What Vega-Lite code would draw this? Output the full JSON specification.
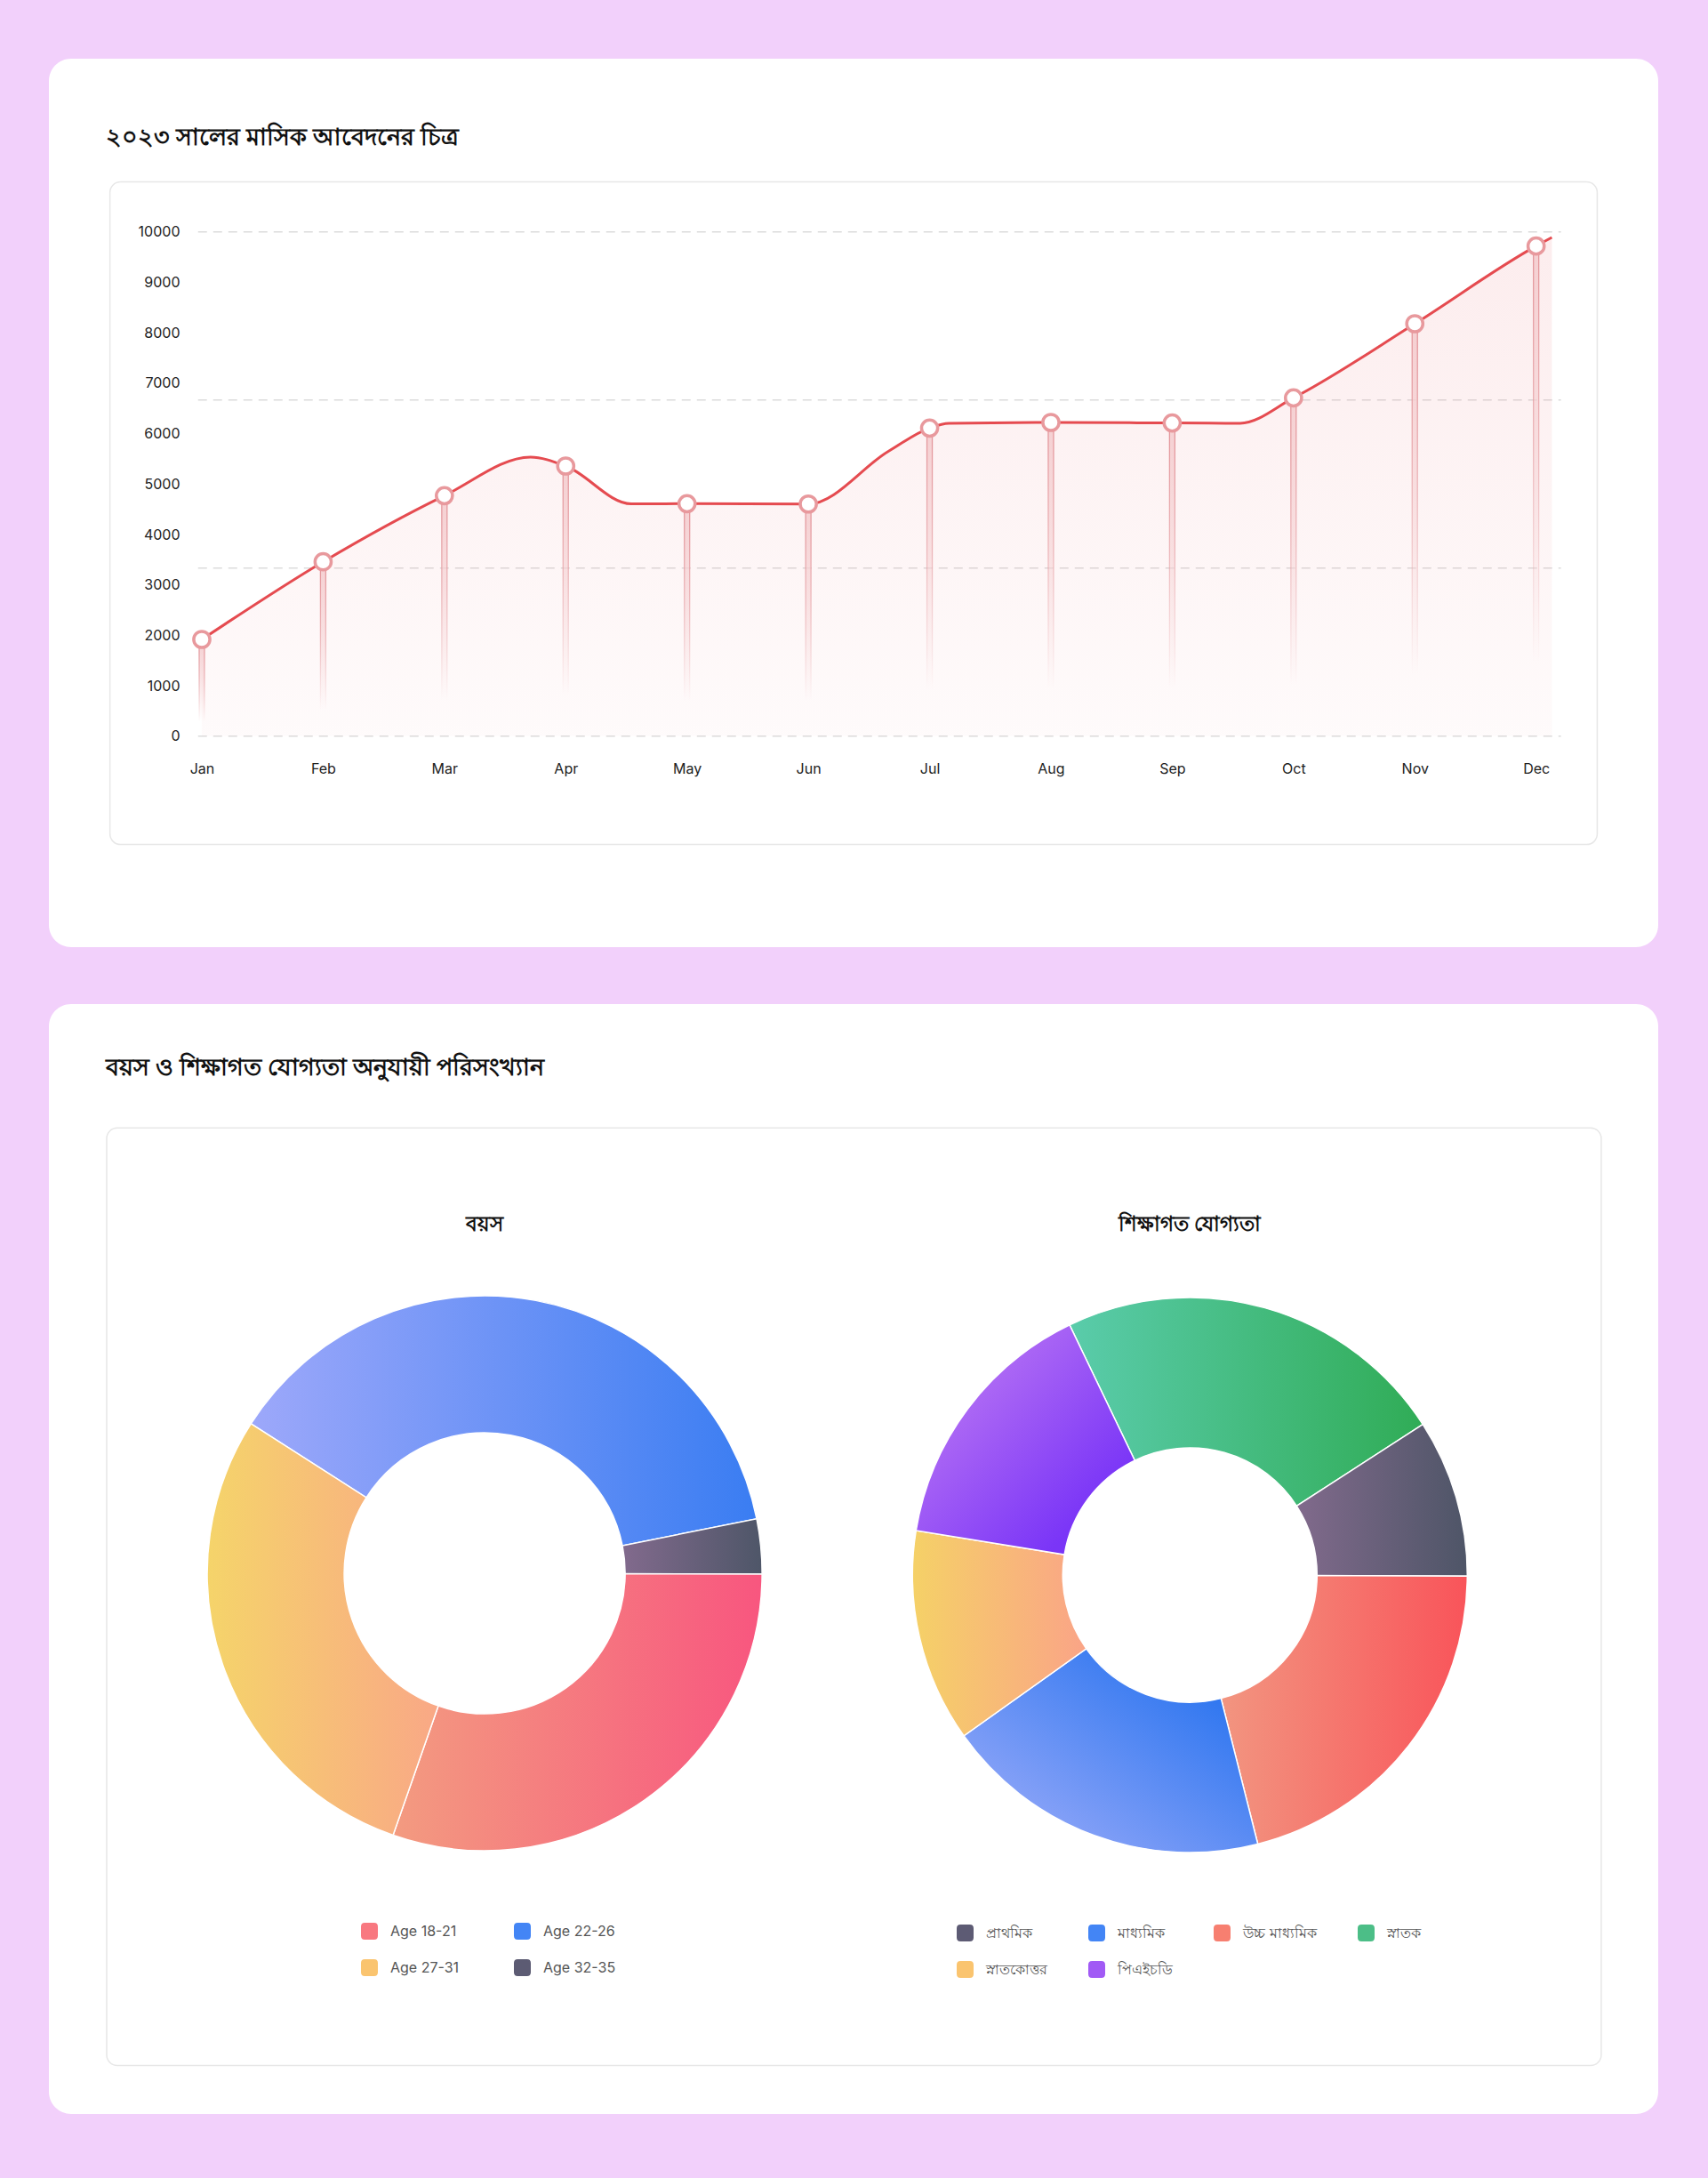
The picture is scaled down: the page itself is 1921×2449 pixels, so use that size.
{
  "$schema": "https://vega.github.io/schema/vega-lite/v6.json",
  "background": "#F2D0FB",
  "padding": {"left": 55, "top": 66, "right": 56, "bottom": 72},
  "spacing": 64,
  "config": {"view": {"stroke": null}, "font": "Inter"},
  "datasets": {
    "curve": [
      {"m": 1, "v": 1919}, {"m": 2, "v": 3459}, {"m": 3, "v": 4770}, {"m": 3.71, "v": 5534},
      {"m": 4, "v": 5358}, {"m": 4.54, "v": 4607}, {"m": 5, "v": 4612}, {"m": 6, "v": 4605},
      {"m": 6.66, "v": 5650}, {"m": 7, "v": 6111}, {"m": 7.16, "v": 6205}, {"m": 8, "v": 6222},
      {"m": 9, "v": 6212}, {"m": 9.56, "v": 6205}, {"m": 10, "v": 6709}, {"m": 11, "v": 8180},
      {"m": 12, "v": 9721}, {"m": 12.13, "v": 9891}
    ],
    "monthly": [
      {"m": 1, "month": "Jan", "v": 1919}, {"m": 2, "month": "Feb", "v": 3459},
      {"m": 3, "month": "Mar", "v": 4770}, {"m": 4, "month": "Apr", "v": 5358},
      {"m": 5, "month": "May", "v": 4612}, {"m": 6, "month": "Jun", "v": 4605},
      {"m": 7, "month": "Jul", "v": 6111}, {"m": 8, "month": "Aug", "v": 6222},
      {"m": 9, "month": "Sep", "v": 6212}, {"m": 10, "month": "Oct", "v": 6709},
      {"m": 11, "month": "Nov", "v": 8180}, {"m": 12, "month": "Dec", "v": 9721}
    ],
    "grid": [{"v": 0}, {"v": 3333.3}, {"v": 6666.7}, {"v": 10000}],
    "age": [
      {"chart": "বয়স", "g": "Age 22-26", "p": 37.8, "o": 1},
      {"chart": "বয়স", "g": "Age 32-35", "p": 3.2, "o": 2},
      {"chart": "বয়স", "g": "Age 18-21", "p": 30.3, "o": 3},
      {"chart": "বয়স", "g": "Age 27-31", "p": 28.7, "o": 4}
    ],
    "edu": [
      {"chart": "শিক্ষাগত যোগ্যতা", "g": "স্নাতক", "p": 23.0, "o": 1},
      {"chart": "শিক্ষাগত যোগ্যতা", "g": "প্রাথমিক", "p": 9.2, "o": 2},
      {"chart": "শিক্ষাগত যোগ্যতা", "g": "উচ্চ মাধ্যমিক", "p": 21.0, "o": 3},
      {"chart": "শিক্ষাগত যোগ্যতা", "g": "মাধ্যমিক", "p": 19.1, "o": 4},
      {"chart": "শিক্ষাগত যোগ্যতা", "g": "স্নাতকোত্তর", "p": 12.4, "o": 5},
      {"chart": "শিক্ষাগত যোগ্যতা", "g": "পিএইচডি", "p": 15.3, "o": 6}
    ],
    "charts": [{"chart": "বয়স"}, {"chart": "শিক্ষাগত যোগ্যতা"}]
  },
  "vconcat": [
    {
      "width": 1810,
      "height": 999,
      "view": {"fill": "white", "cornerRadius": 25, "stroke": null},
      "title": {
        "text": "২০২৩ সালের মাসিক আবেদনের চিত্র",
        "anchor": "start", "frame": "group", "orient": "top", "offset": 0,
        "dx": 64, "dy": 116, "baseline": "middle",
        "font": "Noto Sans", "fontSize": 27, "fontWeight": "bold", "color": "#111111"
      },
      "layer": [
        {
          "data": {"values": [{}]},
          "mark": {"type": "rect", "fill": "transparent", "stroke": "#E7E7E7", "strokeWidth": 1.5, "cornerRadius": 12},
          "encoding": {
            "x": {"datum": 0.2425, "type": "quantitative", "title": null, "scale": {"domain": [-0.224, 12.97], "nice": false, "zero": false},
              "axis": {"values": [1, 2, 3, 4, 5, 6, 7, 8, 9, 10, 11, 12], "labelExpr": "['','Jan','Feb','Mar','Apr','May','Jun','Jul','Aug','Sep','Oct','Nov','Dec'][datum.value]", "offset": -201, "zindex": 2, "domain": false, "ticks": false, "tickSize": 0, "grid": false, "labelPadding": 0, "labelFlush": false, "labelOverlap": false, "labelBaseline": "middle", "labelFont": "Inter", "labelFontSize": 16, "labelColor": "#222222", "title": null}},
            "x2": {"datum": 12.504},
            "y": {"datum": 10992, "type": "quantitative", "title": null, "scale": {"domain": [-4183, 13436], "nice": false, "zero": false},
              "axis": {"values": [0, 1000, 2000, 3000, 4000, 5000, 6000, 7000, 8000, 9000, 10000], "format": "d", "offset": -147, "zindex": 2, "domain": false, "ticks": false, "tickSize": 0, "grid": false, "labelPadding": 0, "labelOverlap": false, "labelFlush": false, "labelFont": "Inter", "labelFontSize": 16, "labelColor": "#222222", "title": null}},
            "y2": {"datum": -2148}
          }
        },
        {
          "data": {"name": "grid"},
          "mark": {"type": "rule", "stroke": "#DCDCDC", "strokeWidth": 1.5, "strokeDash": [10, 7]},
          "encoding": {
            "x": {"datum": 0.969, "type": "quantitative", "title": null, "scale": {"domain": [-0.224, 12.97], "nice": false, "zero": false},
              "axis": {"values": [1, 2, 3, 4, 5, 6, 7, 8, 9, 10, 11, 12], "labelExpr": "['','Jan','Feb','Mar','Apr','May','Jun','Jul','Aug','Sep','Oct','Nov','Dec'][datum.value]", "offset": -201, "zindex": 2, "domain": false, "ticks": false, "tickSize": 0, "grid": false, "labelPadding": 0, "labelFlush": false, "labelOverlap": false, "labelBaseline": "middle", "labelFont": "Inter", "labelFontSize": 16, "labelColor": "#222222", "title": null}},
            "x2": {"datum": 12.205},
            "y": {"field": "v", "type": "quantitative", "title": null, "scale": {"domain": [-4183, 13436], "nice": false, "zero": false},
              "axis": {"values": [0, 1000, 2000, 3000, 4000, 5000, 6000, 7000, 8000, 9000, 10000], "format": "d", "offset": -147, "zindex": 2, "domain": false, "ticks": false, "tickSize": 0, "grid": false, "labelPadding": 0, "labelOverlap": false, "labelFlush": false, "labelFont": "Inter", "labelFontSize": 16, "labelColor": "#222222", "title": null}}
          }
        },
        {
          "data": {"name": "curve"},
          "mark": {
            "type": "area", "interpolate": "monotone",
            "fill": {"gradient": "linear", "x1": 0, "y1": 0, "x2": 0, "y2": 1,
              "stops": [{"offset": 0, "color": "rgba(238,140,146,0.16)"}, {"offset": 1, "color": "rgba(238,140,146,0.04)"}]}
          },
          "encoding": {
            "x": {"field": "m", "type": "quantitative", "title": null, "scale": {"domain": [-0.224, 12.97], "nice": false, "zero": false},
              "axis": {"values": [1, 2, 3, 4, 5, 6, 7, 8, 9, 10, 11, 12], "labelExpr": "['','Jan','Feb','Mar','Apr','May','Jun','Jul','Aug','Sep','Oct','Nov','Dec'][datum.value]", "offset": -201, "zindex": 2, "domain": false, "ticks": false, "tickSize": 0, "grid": false, "labelPadding": 0, "labelFlush": false, "labelOverlap": false, "labelBaseline": "middle", "labelFont": "Inter", "labelFontSize": 16, "labelColor": "#222222", "title": null}},
            "y": {"field": "v", "type": "quantitative", "title": null, "scale": {"domain": [-4183, 13436], "nice": false, "zero": false},
              "axis": {"values": [0, 1000, 2000, 3000, 4000, 5000, 6000, 7000, 8000, 9000, 10000], "format": "d", "offset": -147, "zindex": 2, "domain": false, "ticks": false, "tickSize": 0, "grid": false, "labelPadding": 0, "labelOverlap": false, "labelFlush": false, "labelFont": "Inter", "labelFontSize": 16, "labelColor": "#222222", "title": null}},
            "y2": {"datum": 0}
          }
        },
        {
          "data": {"name": "monthly"},
          "mark": {
            "type": "bar", "size": 6, "strokeWidth": 1.3,
            "fill": {"gradient": "linear", "x1": 0, "y1": 0, "x2": 0, "y2": 1,
              "stops": [{"offset": 0, "color": "#F5D0D2"}, {"offset": 0.4, "color": "rgba(245,208,210,0.6)"}, {"offset": 0.85, "color": "rgba(245,208,210,0)"}]},
            "stroke": {"gradient": "linear", "x1": 0, "y1": 0, "x2": 0, "y2": 1,
              "stops": [{"offset": 0, "color": "#E3959A"}, {"offset": 0.4, "color": "rgba(227,149,154,0.6)"}, {"offset": 0.85, "color": "rgba(227,149,154,0)"}]}
          },
          "encoding": {
            "x": {"field": "m", "type": "quantitative", "title": null, "scale": {"domain": [-0.224, 12.97], "nice": false, "zero": false},
              "axis": {"values": [1, 2, 3, 4, 5, 6, 7, 8, 9, 10, 11, 12], "labelExpr": "['','Jan','Feb','Mar','Apr','May','Jun','Jul','Aug','Sep','Oct','Nov','Dec'][datum.value]", "offset": -201, "zindex": 2, "domain": false, "ticks": false, "tickSize": 0, "grid": false, "labelPadding": 0, "labelFlush": false, "labelOverlap": false, "labelBaseline": "middle", "labelFont": "Inter", "labelFontSize": 16, "labelColor": "#222222", "title": null}},
            "y": {"field": "v", "type": "quantitative", "title": null, "scale": {"domain": [-4183, 13436], "nice": false, "zero": false},
              "axis": {"values": [0, 1000, 2000, 3000, 4000, 5000, 6000, 7000, 8000, 9000, 10000], "format": "d", "offset": -147, "zindex": 2, "domain": false, "ticks": false, "tickSize": 0, "grid": false, "labelPadding": 0, "labelOverlap": false, "labelFlush": false, "labelFont": "Inter", "labelFontSize": 16, "labelColor": "#222222", "title": null}},
            "y2": {"datum": 0}
          }
        },
        {
          "data": {"name": "curve"},
          "mark": {"type": "line", "interpolate": "monotone", "color": "#E54B50", "strokeWidth": 3},
          "encoding": {
            "x": {"field": "m", "type": "quantitative", "title": null, "scale": {"domain": [-0.224, 12.97], "nice": false, "zero": false},
              "axis": {"values": [1, 2, 3, 4, 5, 6, 7, 8, 9, 10, 11, 12], "labelExpr": "['','Jan','Feb','Mar','Apr','May','Jun','Jul','Aug','Sep','Oct','Nov','Dec'][datum.value]", "offset": -201, "zindex": 2, "domain": false, "ticks": false, "tickSize": 0, "grid": false, "labelPadding": 0, "labelFlush": false, "labelOverlap": false, "labelBaseline": "middle", "labelFont": "Inter", "labelFontSize": 16, "labelColor": "#222222", "title": null}},
            "y": {"field": "v", "type": "quantitative", "title": null, "scale": {"domain": [-4183, 13436], "nice": false, "zero": false},
              "axis": {"values": [0, 1000, 2000, 3000, 4000, 5000, 6000, 7000, 8000, 9000, 10000], "format": "d", "offset": -147, "zindex": 2, "domain": false, "ticks": false, "tickSize": 0, "grid": false, "labelPadding": 0, "labelOverlap": false, "labelFlush": false, "labelFont": "Inter", "labelFontSize": 16, "labelColor": "#222222", "title": null}}
          }
        },
        {
          "data": {"name": "monthly"},
          "mark": {"type": "point", "filled": true, "fill": "white", "stroke": "#E8999D", "strokeWidth": 3.5, "size": 330, "opacity": 1},
          "encoding": {
            "x": {"field": "m", "type": "quantitative", "title": null, "scale": {"domain": [-0.224, 12.97], "nice": false, "zero": false},
              "axis": {"values": [1, 2, 3, 4, 5, 6, 7, 8, 9, 10, 11, 12], "labelExpr": "['','Jan','Feb','Mar','Apr','May','Jun','Jul','Aug','Sep','Oct','Nov','Dec'][datum.value]", "offset": -201, "zindex": 2, "domain": false, "ticks": false, "tickSize": 0, "grid": false, "labelPadding": 0, "labelFlush": false, "labelOverlap": false, "labelBaseline": "middle", "labelFont": "Inter", "labelFontSize": 16, "labelColor": "#222222", "title": null}},
            "y": {"field": "v", "type": "quantitative", "title": null, "scale": {"domain": [-4183, 13436], "nice": false, "zero": false},
              "axis": {"values": [0, 1000, 2000, 3000, 4000, 5000, 6000, 7000, 8000, 9000, 10000], "format": "d", "offset": -147, "zindex": 2, "domain": false, "ticks": false, "tickSize": 0, "grid": false, "labelPadding": 0, "labelOverlap": false, "labelFlush": false, "labelFont": "Inter", "labelFontSize": 16, "labelColor": "#222222", "title": null}}
          }
        }
      ]
    },
    {
      "width": 1810,
      "height": 1248,
      "view": {"fill": "white", "cornerRadius": 25, "stroke": null},
      "title": {
        "text": "বয়স ও শিক্ষাগত যোগ্যতা অনুযায়ী পরিসংখ্যান",
        "anchor": "start", "frame": "group", "orient": "top", "offset": 0,
        "dx": 64, "dy": 99, "baseline": "middle",
        "font": "Noto Sans", "fontSize": 27, "fontWeight": "bold", "color": "#111111"
      },
      "resolve": {"scale": {"x": "independent", "y": "independent", "theta": "independent", "color": "independent"}},
      "layer": [
        {
          "data": {"values": [{}]},
          "mark": {"type": "rect", "fill": "transparent", "stroke": "#E7E7E7", "strokeWidth": 1.5, "cornerRadius": 12},
          "encoding": {
            "x": {"datum": 0.0359, "type": "quantitative", "scale": {"domain": [0, 1], "nice": false}, "axis": null},
            "x2": {"datum": 0.9646},
            "y": {"datum": 0.0437, "type": "quantitative", "scale": {"domain": [0, 1], "nice": false}, "axis": null},
            "y2": {"datum": 0.8885}
          }
        },
        {
          "data": {"name": "age"},
          "mark": {"type": "arc", "outerRadius": 312, "innerRadius": 158, "stroke": "white", "strokeWidth": 1.5, "yOffset": 16},
          "encoding": {
            "x": {"field": "chart", "type": "nominal", "axis": null,
              "scale": {"type": "point", "domain": ["বয়স", "শিক্ষাগত যোগ্যতা"], "padding": 0.641, "align": 0.482}},
            "theta": {"field": "p", "type": "quantitative", "stack": true,
              "scale": {"domain": [0, 100], "range": [-1.0018, 5.2814]}},
            "order": {"field": "o", "type": "quantitative"},
            "detail": {"field": "g", "type": "nominal"},
            "fill": {
              "condition": [
                {"test": "datum.g === 'Age 22-26'", "value": {"gradient": "linear", "x1": 0, "y1": 0, "x2": 1, "y2": 0, "stops": [{"offset": 0, "color": "#9DA8FA"}, {"offset": 1, "color": "#3A7DF2"}]}},
                {"test": "datum.g === 'Age 32-35'", "value": {"gradient": "linear", "x1": 0, "y1": 0, "x2": 1, "y2": 0, "stops": [{"offset": 0, "color": "#826A8D"}, {"offset": 1, "color": "#4E5668"}]}},
                {"test": "datum.g === 'Age 18-21'", "value": {"gradient": "linear", "x1": 0, "y1": 0, "x2": 1, "y2": 0, "stops": [{"offset": 0, "color": "#F39B80"}, {"offset": 1, "color": "#F8567F"}]}}
              ],
              "value": {"gradient": "linear", "x1": 0, "y1": 0, "x2": 1, "y2": 0, "stops": [{"offset": 0, "color": "#F5D46A"}, {"offset": 1, "color": "#F9A886"}]}
            }
          }
        },
        {
          "data": {"name": "age"},
          "mark": {"type": "arc", "outerRadius": 0, "innerRadius": 0},
          "encoding": {
            "theta": {"field": "p", "type": "quantitative"},
            "color": {
              "field": "g", "type": "nominal",
              "scale": {"domain": ["Age 18-21", "Age 22-26", "Age 27-31", "Age 32-35"], "range": ["#F87880", "#4385F5", "#FAC46F", "#5C5B73"]},
              "legend": {
                "orient": "none", "legendX": 351, "legendY": 1033, "columns": 2, "direction": "horizontal", "title": null,
                "gridAlign": "none", "columnPadding": 61, "rowPadding": 22, "padding": 0,
                "symbolType": "M-0.55,-1 H0.55 Q1,-1 1,-0.55 V0.55 Q1,1 0.55,1 H-0.55 Q-1,1 -1,0.55 V-0.55 Q-1,-1 -0.55,-1 Z",
                "symbolSize": 361, "symbolStrokeWidth": 0, "symbolOpacity": 1,
                "labelFont": "Inter", "labelFontSize": 16, "labelColor": "#555555", "labelOffset": 14
              }
            }
          }
        },
        {
          "data": {"name": "edu"},
          "mark": {"type": "arc", "outerRadius": 312, "innerRadius": 143, "stroke": "white", "strokeWidth": 1.5, "yOffset": 18},
          "encoding": {
            "x": {"field": "chart", "type": "nominal", "axis": null,
              "scale": {"type": "point", "domain": ["বয়স", "শিক্ষাগত যোগ্যতা"], "padding": 0.641, "align": 0.482}},
            "theta": {"field": "p", "type": "quantitative", "stack": true,
              "scale": {"domain": [0, 100], "range": [-0.4485, 5.8347]}},
            "order": {"field": "o", "type": "quantitative"},
            "detail": {"field": "g", "type": "nominal"},
            "fill": {
              "condition": [
                {"test": "datum.g === 'স্নাতক'", "value": {"gradient": "linear", "x1": 0, "y1": 0, "x2": 1, "y2": 0, "stops": [{"offset": 0, "color": "#5ACCAB"}, {"offset": 1, "color": "#30AC56"}]}},
                {"test": "datum.g === 'প্রাথমিক'", "value": {"gradient": "linear", "x1": 0, "y1": 0, "x2": 1, "y2": 0, "stops": [{"offset": 0, "color": "#816A8C"}, {"offset": 1, "color": "#4E5567"}]}},
                {"test": "datum.g === 'উচ্চ মাধ্যমিক'", "value": {"gradient": "linear", "x1": 0, "y1": 0, "x2": 1, "y2": 0, "stops": [{"offset": 0, "color": "#F29580"}, {"offset": 1, "color": "#F9545A"}]}},
                {"test": "datum.g === 'মাধ্যমিক'", "value": {"gradient": "linear", "x1": 0, "y1": 1, "x2": 1, "y2": 0, "stops": [{"offset": 0, "color": "#A5B0FA"}, {"offset": 0.8, "color": "#3278F0"}]}},
                {"test": "datum.g === 'স্নাতকোত্তর'", "value": {"gradient": "linear", "x1": 0, "y1": 0, "x2": 1, "y2": 0, "stops": [{"offset": 0, "color": "#F5D167"}, {"offset": 1, "color": "#FAA487"}]}}
              ],
              "value": {"gradient": "linear", "x1": 0, "y1": 0, "x2": 1, "y2": 1, "stops": [{"offset": 0, "color": "#C884F3"}, {"offset": 0.8, "color": "#7A35F7"}]}
            }
          }
        },
        {
          "data": {"name": "edu"},
          "mark": {"type": "arc", "outerRadius": 0, "innerRadius": 0},
          "encoding": {
            "theta": {"field": "p", "type": "quantitative"},
            "color": {
              "field": "g", "type": "nominal",
              "scale": {"domain": ["প্রাথমিক", "মাধ্যমিক", "উচ্চ মাধ্যমিক", "স্নাতক", "স্নাতকোত্তর", "পিএইচডি"], "range": ["#5D5B74", "#4385F5", "#F77F70", "#4CBE87", "#FAC46F", "#A15AF5"]},
              "legend": {
                "orient": "none", "legendX": 1021, "legendY": 1035, "columns": 4, "direction": "horizontal", "title": null,
                "gridAlign": "none", "columnPadding": 46, "rowPadding": 22, "padding": 0,
                "symbolType": "M-0.55,-1 H0.55 Q1,-1 1,-0.55 V0.55 Q1,1 0.55,1 H-0.55 Q-1,1 -1,0.55 V-0.55 Q-1,-1 -0.55,-1 Z",
                "symbolSize": 361, "symbolStrokeWidth": 0, "symbolOpacity": 1,
                "labelFont": "Inter", "labelFontSize": 16, "labelColor": "#555555", "labelOffset": 14
              }
            }
          }
        },
        {
          "data": {"name": "charts"},
          "mark": {"type": "text", "dy": -376, "baseline": "middle", "align": "center", "font": "Noto Sans", "fontSize": 23, "fontWeight": "bold", "color": "#111111"},
          "encoding": {
            "x": {"field": "chart", "type": "nominal", "axis": null,
              "scale": {"type": "point", "domain": ["বয়স", "শিক্ষাগত যোগ্যতা"], "padding": 0.641, "align": 0.482}},
            "text": {"field": "chart"}
          }
        }
      ]
    }
  ]
}
